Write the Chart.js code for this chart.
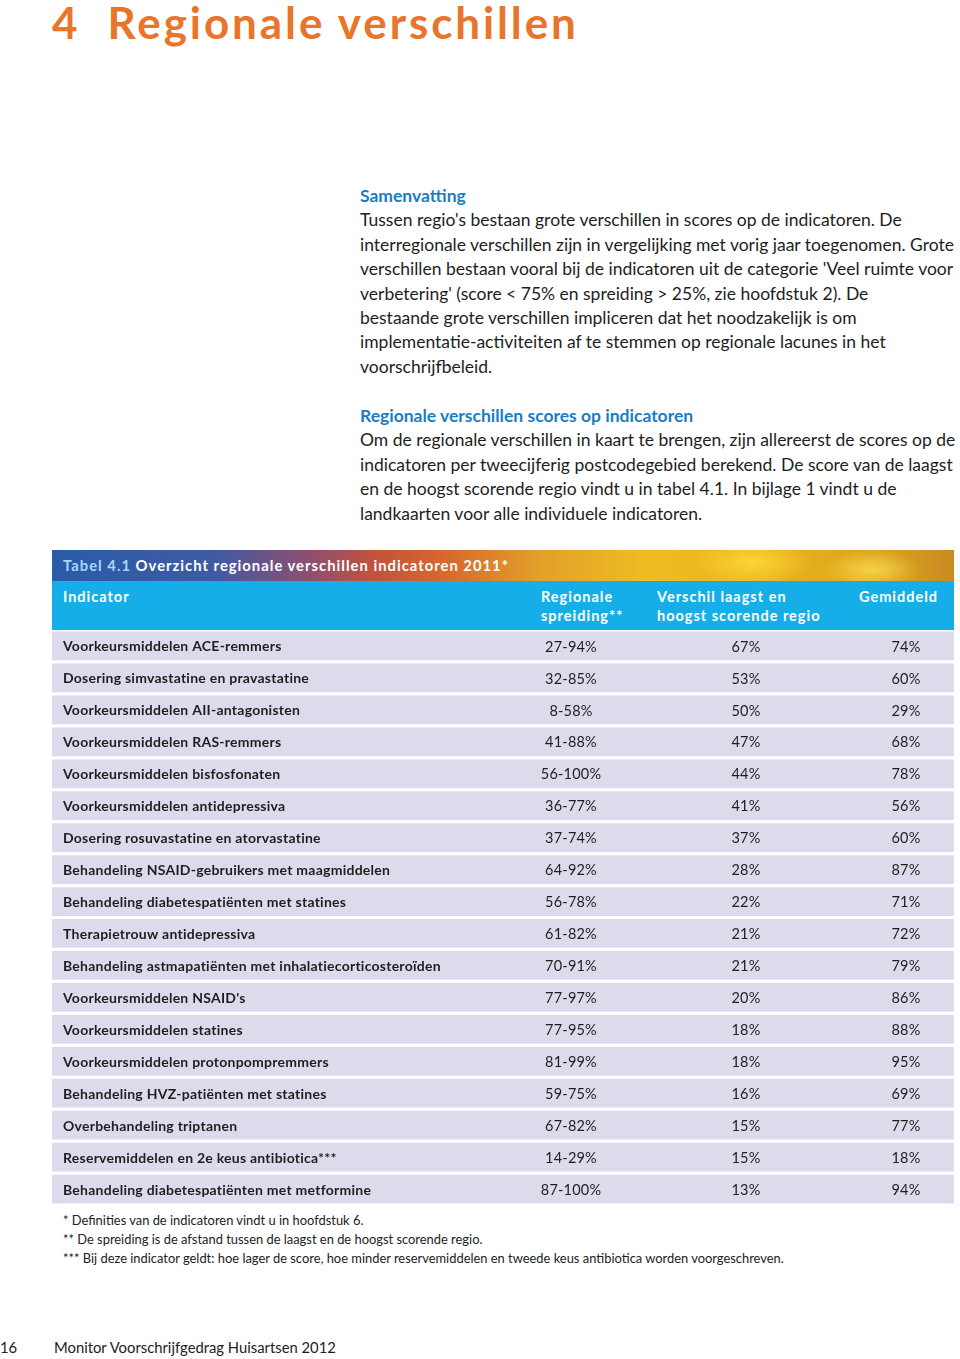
<!DOCTYPE html>
<html lang="nl">
<head>
<meta charset="utf-8">
<title>Regionale verschillen</title>
<script src="https://cdn.jsdelivr.net/npm/chart.js@4.4.1/dist/chart.umd.min.js"></script>
<style>
  html, body { margin: 0; padding: 0; background: #fff; }
  body { width: 960px; height: 1359px; position: relative; overflow: hidden; font-family: Lato, "Open Sans", sans-serif; color: #222; }
  .abs { position: absolute; }
  #title { left: 52px; top: 0px; font-size: 44px; line-height: 44px; font-weight: bold; color: #e8752a; letter-spacing: 2.9px; white-space: pre; }
  .para { left: 360px; width: 600px; font-size: 17.5px; line-height: 24.4px; color: #1e1e1e; white-space: nowrap; }
  .para h3 { margin: 0; font-size: 17.5px; font-weight: bold; color: #1b7dc1; }
  #banner { left: 52px; top: 550px; width: 902px; height: 31px;
    background:
      radial-gradient(ellipse 60px 25px at 700px 12px, rgba(255,220,60,0.8), rgba(255,220,60,0) 100%),
      radial-gradient(ellipse 50px 20px at 820px 20px, rgba(255,230,90,0.7), rgba(255,230,90,0) 100%),
      linear-gradient(90deg, #2a5ba8 0%, #3f5aa4 18%, #8a4f72 28%, #c4523c 36%, #d86a2c 44%, #e2a02a 54%, #efbd22 66%, #e9b21c 80%, #dba31e 92%, #c98a22 100%);
    color: #fff; font-weight: bold; font-size: 14.8px; line-height: 31px; box-sizing: border-box; padding-left: 11px; letter-spacing: 1px; white-space: nowrap; }
  #banner .nr { color: #9fdcf7; }
  #head { left: 52px; top: 581px; width: 902px; height: 49px; background: #16aee9; color: #fff; font-weight: bold; font-size: 14.5px; line-height: 19px; letter-spacing: 1px; }
  #head div { position: absolute; top: 6px; white-space: nowrap; }
  #tableWrap { left: 52px; top: 630px; width: 902px; height: 575px; }
  .note { left: 63px; font-size: 12.9px; line-height: 16px; color: #222; white-space: nowrap; }
  .footer { top: 1337px; font-size: 14.8px; line-height: 20px; color: #222; white-space: nowrap; }
</style>
</head>
<body>
<div id="title" class="abs">4  Regionale verschillen</div>

<div class="abs para" style="top:184px">
  <h3>Samenvatting</h3>
  Tussen regio's bestaan grote verschillen in scores op de indicatoren. De<br>
  interregionale verschillen zijn in vergelijking met vorig jaar toegenomen. Grote<br>
  verschillen bestaan vooral bij de indicatoren uit de categorie 'Veel ruimte voor<br>
  verbetering' (score &lt; 75% en spreiding &gt; 25%, zie hoofdstuk 2). De<br>
  bestaande grote verschillen impliceren dat het noodzakelijk is om<br>
  implementatie-activiteiten af te stemmen op regionale lacunes in het<br>
  voorschrijfbeleid.
</div>

<div class="abs para" style="top:404px">
  <h3>Regionale verschillen scores op indicatoren</h3>
  Om de regionale verschillen in kaart te brengen, zijn allereerst de scores op de<br>
  indicatoren per tweecijferig postcodegebied berekend. De score van de laagst<br>
  en de hoogst scorende regio vindt u in tabel 4.1. In bijlage 1 vindt u de<br>
  landkaarten voor alle individuele indicatoren.
</div>

<div id="banner" class="abs"><span class="nr">Tabel 4.1</span> Overzicht regionale verschillen indicatoren 2011*</div>
<div id="head" class="abs">
  <div style="left:11px">Indicator</div>
  <div style="left:489px">Regionale<br>spreiding**</div>
  <div style="left:605px">Verschil laagst en<br>hoogst scorende regio</div>
  <div style="left:807px">Gemiddeld</div>
</div>

<div id="tableWrap" class="abs"><canvas id="tableChart" width="902" height="575"></canvas></div>

<div class="abs note" style="top:1212px">* Definities van de indicatoren vindt u in hoofdstuk 6.</div>
<div class="abs note" style="top:1231px">** De spreiding is de afstand tussen de laagst en de hoogst scorende regio.</div>
<div class="abs note" style="top:1250px">*** Bij deze indicator geldt: hoe lager de score, hoe minder reservemiddelen en tweede keus antibiotica worden voorgeschreven.</div>

<div class="abs footer" style="left:0">16</div>
<div class="abs footer" style="left:54px">Monitor Voorschrijfgedrag Huisartsen 2012</div>

<script>
// Table data (tabel 4.1)
const indicators = [
    'Voorkeursmiddelen ACE-remmers',
    'Dosering simvastatine en pravastatine',
    'Voorkeursmiddelen AII-antagonisten',
    'Voorkeursmiddelen RAS-remmers',
    'Voorkeursmiddelen bisfosfonaten',
    'Voorkeursmiddelen antidepressiva',
    'Dosering rosuvastatine en atorvastatine',
    'Behandeling NSAID-gebruikers met maagmiddelen',
    'Behandeling diabetespatiënten met statines',
    'Therapietrouw antidepressiva',
    'Behandeling astmapatiënten met inhalatiecorticosteroïden',
    "Voorkeursmiddelen NSAID's",
    'Voorkeursmiddelen statines',
    'Voorkeursmiddelen protonpompremmers',
    'Behandeling HVZ-patiënten met statines',
    'Overbehandeling triptanen',
    'Reservemiddelen en 2e keus antibiotica***',
    'Behandeling diabetespatiënten met metformine'
];
const spreidingLaag = [27, 32, 8, 41, 56, 36, 37, 64, 56, 61, 70, 77, 77, 81, 59, 67, 14, 87];
const spreidingHoog = [94, 85, 58, 88, 100, 77, 74, 92, 78, 82, 91, 97, 95, 99, 75, 82, 29, 100];
const verschil = [67, 53, 50, 47, 44, 41, 37, 28, 22, 21, 21, 20, 18, 18, 16, 15, 15, 13];
const gemiddeld = [74, 60, 29, 68, 78, 56, 60, 87, 71, 72, 79, 86, 88, 95, 69, 77, 18, 94];

// column positions in px inside the table canvas
const colX = { indicator: 11, spreiding: 519, verschil: 694, gemiddeld: 854 };

const cellText = {
    id: 'cellText',
    afterDatasetsDraw(chart) {
        const ctx = chart.ctx;
        const y = chart.scales.y;
        ctx.save();
        ctx.fillStyle = '#1e1e1e';
        ctx.textBaseline = 'middle';
        indicators.forEach((name, i) => {
            const py = y.getPixelForValue(i) + 1;
            ctx.font = 'bold 14px Lato, "Open Sans", sans-serif';
            ctx.letterSpacing = '0.25px';
            ctx.textAlign = 'left';
            ctx.fillText(name, colX.indicator, py);
            ctx.font = '14.5px Lato, "Open Sans", sans-serif';
            ctx.letterSpacing = '0.2px';
            ctx.textAlign = 'center';
            ctx.fillText(spreidingLaag[i] + '-' + spreidingHoog[i] + '%', colX.spreiding, py);
            ctx.fillText(verschil[i] + '%', colX.verschil, py);
            ctx.fillText(gemiddeld[i] + '%', colX.gemiddeld, py);
        });
        ctx.restore();
    }
};

new Chart(document.getElementById('tableChart').getContext('2d'), {
    type: 'bar',
    data: {
        labels: indicators,
        datasets: [{
            data: indicators.map(() => 1), // full-width row band
            backgroundColor: '#dddbeb',
            borderWidth: 0,
            barPercentage: 0.9,
            categoryPercentage: 1
        }]
    },
    options: {
        indexAxis: 'y',
        responsive: false,
        animation: false,
        devicePixelRatio: 1,
        layout: { padding: 0 },
        plugins: {
            legend: { display: false },
            tooltip: { enabled: false }
        },
        scales: {
            x: { display: false, min: 0, max: 1 },
            y: { display: false }
        }
    },
    plugins: [cellText]
});
</script>
</body>
</html>
